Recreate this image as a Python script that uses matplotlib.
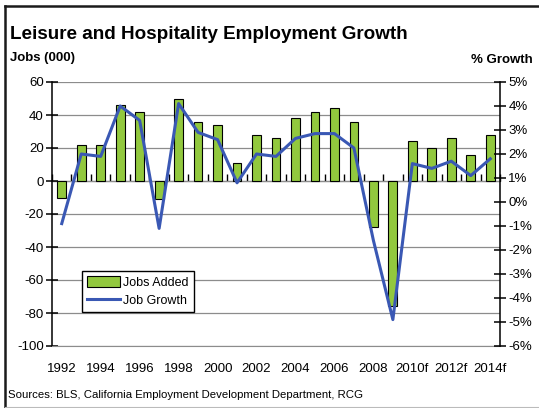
import matplotlib
matplotlib.use("Agg")
import matplotlib.pyplot as plt
import numpy as np
from matplotlib.patches import Patch
from matplotlib.lines import Line2D
from matplotlib.ticker import FixedLocator

plt.rcParams['font.family'] = ['Liberation Sans Narrow', 'Liberation Sans', 'DejaVu Sans']

years = ['1992', '1993', '1994', '1995', '1996', '1997', '1998', '1999', '2000',
         '2001', '2002', '2003', '2004', '2005', '2006', '2007', '2008', '2009',
         '2010f', '2011f', '2012f', '2013f', '2014f']
jobs_added = [-10, 22, 22, 46, 42, -11, 50, 36, 34, 11, 28, 26, 38, 42, 44, 36,
              -28, -76, 24, 20, 26, 16, 28]
job_growth = [-0.9, 2.0, 1.9, 4.0, 3.4, -1.1, 4.1, 2.9, 2.6, 0.8, 2.0, 1.9, 2.65,
              2.85, 2.85, 2.25, -1.6, -4.9, 1.6, 1.4, 1.7, 1.1, 1.8]

left_ticks = [60, 40, 20, 0, -20, -40, -60, -80, -100]
right_ticks = [5, 4, 3, 2, 1, 0, -1, -2, -3, -4, -5, -6]

bar_green = '#92c83e'
line_blue = '#3a58b4'

fig = plt.figure(figsize=(5.39, 4.08), dpi=100)
ax = fig.add_axes([52 / 539, 1 - 346 / 408, 448 / 539, 264 / 408])
ax2 = ax.twinx()

x = np.arange(len(years))
ax.bar(x, jobs_added, width=0.45, color=bar_green, edgecolor='black', linewidth=0.8, zorder=3)
ax2.plot(x, job_growth, color=line_blue, linewidth=2.2, zorder=4)

ax.set_xlim(-0.5, len(years) - 0.5)
ax.set_ylim(-100, 60)
ax2.set_ylim(-6, 5)

# horizontal grid
ax.set_yticks(left_ticks)
ax.set_yticklabels([str(v) for v in left_ticks])
ax.yaxis.grid(True, color='#8c8c8c', linewidth=0.9, zorder=0)
ax.set_axisbelow(True)

ax2.set_yticks(right_ticks)
ax2.set_yticklabels([f'{v}%' for v in right_ticks])

for s in ['top']:
    ax.spines[s].set_visible(False)
    ax2.spines[s].set_visible(False)
ax2.spines['left'].set_visible(False)
ax2.spines['bottom'].set_visible(False)
ax.spines['right'].set_visible(False)
ax.spines['bottom'].set_color('#8c8c8c')
ax.spines['left'].set_linewidth(1.1)
ax2.spines['right'].set_linewidth(1.1)

ax.tick_params(axis='y', direction='inout', length=8, width=1.1, labelsize=9.5, pad=2)
ax2.tick_params(axis='y', direction='inout', length=8, width=1.1, labelsize=9.5, pad=2)

# x labels every two years at the bottom
ax.set_xticks(x[::2])
ax.set_xticklabels(years[::2])
ax.tick_params(axis='x', length=0, labelsize=9.5, pad=12)

# zero line with category separator ticks
zero_axis = ax.secondary_xaxis((0 - (-100)) / 160)
zero_axis.spines['bottom'].set_linewidth(1.1)
zero_axis.set_xticks([])
zero_axis.xaxis.set_minor_locator(FixedLocator(np.arange(len(years) + 1) - 0.5))
zero_axis.tick_params(axis='x', which='minor', direction='out', length=5, width=1.0)

handles = [Patch(facecolor=bar_green, edgecolor='black', linewidth=0.8),
           Line2D([0], [0], color=line_blue, linewidth=2.2)]
leg = ax2.legend(handles, ['Jobs Added', 'Job Growth'], loc='lower left',
                 bbox_to_anchor=(0.067, 0.129), borderaxespad=0, fancybox=False,
                 edgecolor='black', framealpha=1, fontsize=9, handlelength=2.6,
                 handleheight=0.9, handletextpad=0.3, borderpad=0.4, labelspacing=0.45)
leg.get_frame().set_linewidth(1.0)

fig.text(10 / 539, 1 - 39 / 408, 'Leisure and Hospitality Employment Growth',
         fontsize=13.6, fontweight='bold', va='baseline', ha='left')
fig.text(10 / 539, 1 - 61 / 408, 'Jobs (000)', fontsize=9.5, fontweight='bold',
         va='baseline', ha='left')
fig.text(533 / 539, 1 - 63 / 408, '% Growth', fontsize=9.5, fontweight='bold',
         va='baseline', ha='right')
fig.text(8 / 539, 1 - 398 / 408,
         'Sources: BLS, California Employment Development Department, RCG',
         fontsize=8.2, va='baseline', ha='left')

# outer frame
fig.add_artist(Line2D([5 / 539, 1], [1 - 5.5 / 408, 1 - 5.5 / 408], color='#1a1a1a',
                      linewidth=1.8, transform=fig.transFigure))
fig.add_artist(Line2D([5 / 539, 5 / 539], [0, 1 - 5.5 / 408], color='#1a1a1a',
                      linewidth=1.8, transform=fig.transFigure))
fig.add_artist(Line2D([5 / 539, 1], [1.5 / 408, 1.5 / 408], color='#bbbbbb',
                      linewidth=0.8, transform=fig.transFigure))

fig.savefig('out.png', dpi=100)
